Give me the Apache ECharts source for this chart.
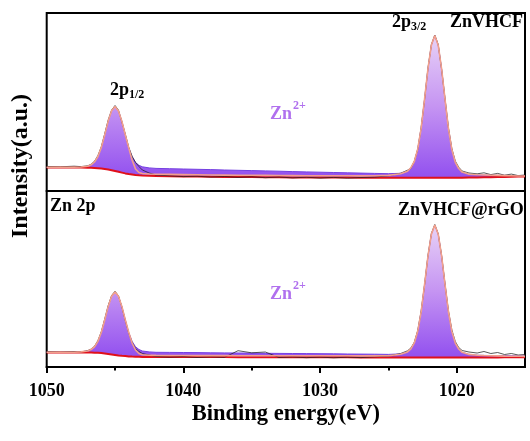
<!DOCTYPE html>
<html><head><meta charset="utf-8">
<script src="https://cdn.jsdelivr.net/npm/echarts@6/dist/echarts.min.js"></script>
<style>html,body{margin:0;padding:0;background:#fff}#c{width:530px;height:441px}</style>
</head><body><div id="c"></div>
<script>
// Binding energy grid (eV)
const energy = [1050,1049,1048,1047.5,1047,1046.75,1046.5,1046.25,1046,1045.75,1045.5,1045.25,1045,1044.75,1044.5,1044.25,1044,1043.75,1043.5,1043.25,1043,1042.5,1042,1041,1040,1039,1038,1037,1036,1035,1034,1033,1032,1031,1030,1029,1028,1027,1026,1025,1024.1,1023.6,1023.35,1023.1,1022.85,1022.6,1022.35,1022.1,1021.85,1021.6,1021.35,1021.1,1020.85,1020.6,1020.35,1020.1,1019.85,1019.6,1019.1,1018.5,1018,1017.5,1017,1016.5,1016,1015.5,1015];

// ZnVHCF (top panel)
const bgTop = [23.5,23.5,23.5,23.5,23.3,23.2,23,22.8,22.5,22,21.5,20.8,20,19.2,18.4,17.6,17,16.5,16,15.7,15.5,15.2,15,14.8,14.6,14.4,14.2,14.1,14,13.9,13.8,13.7,13.6,13.5,13.5,13.4,13.4,13.3,13.3,13.2,13.2,13.2,13.2,13.2,13.2,13.2,13.2,13.2,13.2,13.2,13.2,13.2,13.2,13.2,13.2,13.2,13.3,13.3,13.4,13.5,13.7,13.8,14,14.1,14.3,14.4,14.5];
const compTop = [23.5,23.5,23.5,23.8,24.7,26.2,29,34.5,43.6,56.4,69.9,80.2,84.5,80.1,69.8,56.3,43.4,34.2,28.6,25.7,24.2,23.1,22.6,22.3,22.0,21.7,21.4,21.0,20.7,20.4,20.1,19.8,19.4,19.1,18.8,18.5,18.2,17.9,17.6,17.3,17.7,19.8,23.3,29.5,42,62.7,91.8,122.3,145.9,155.5,145.8,122,91.4,62.2,41.3,28.7,22.5,18.9,16.7,16,15.9,15.8,15.7,15.6,15.5,15.4,15.3];
const envTop = [23.8,23.8,23.8,24,24.7,26.2,29,34.5,43.6,56.4,69.9,80.2,84.5,80.1,69.8,56.3,43.4,31,22,18.5,17.5,17,16.8,16.6,16.4,16.2,16,15.9,15.8,15.7,15.6,15.5,15.4,15.3,15.3,15.2,15.2,15.1,15.2,15.6,17.2,19.8,23.3,29.5,42,62.7,91.8,122.3,145.9,155.5,145.8,122,91.4,62.2,41.3,28.7,22.5,18.9,16.7,16.2,16,15.8,15.6,15.4,15.2,15,15];
const rawTop = [24.5,24.2,24.8,24.4,25.2,26.8,29.8,35.5,44.5,57.5,71,81,85.5,81,69,57,43.8,34.8,28.5,24.5,21,18,16,15.2,14.4,14.8,13.9,14.5,13.6,14.2,13.3,14,13.1,13.8,12.9,13.6,12.8,13.5,13.9,15.2,17.8,20.8,22.5,29.8,41.5,63.5,91.2,123,146.5,156,146.5,121.5,92.2,63,42.2,30,23.8,20,18,17.2,18.2,16.4,17.6,15.8,16.9,15.4,16];

// ZnVHCF@rGO (bottom panel)
const bgBot = [14.5,14.5,14.5,14.5,14.4,14.4,14.3,14.2,14,13.6,13.1,12.6,12.1,11.6,11.2,10.9,10.6,10.4,10.3,10.2,10.1,10,10,10,10,9.9,9.9,9.9,9.8,9.8,9.8,9.8,9.7,9.7,9.7,9.7,9.7,9.6,9.6,9.6,9.6,9.6,9.6,9.6,9.6,9.6,9.6,9.6,9.6,9.6,9.6,9.6,9.6,9.6,9.6,9.6,9.6,9.6,9.6,9.6,9.6,9.6,9.6,9.7,9.7,9.7,9.7];
const compBot = [14.8,14.8,14.8,15.1,16,17.5,20.2,25.6,34.7,47.3,60.6,70.8,75,70.8,60.6,47.3,34.7,25.6,20.2,17.5,16,15.1,14.7,14.6,14.5,14.4,14.2,14.1,14,13.9,13.7,13.6,13.5,13.4,13.3,13.2,13,12.9,12.8,12.6,13.1,15.1,18.2,24.1,35.7,55.1,82.3,110.9,132.9,142,132.8,110.8,82.2,55,35.5,23.9,18,14.7,12.6,11.8,11.6,11.5,11.4,11.3,11.2,11.1,11];
const envBot = [14.8,14.8,14.8,15.1,16,17.5,20.2,25.6,34.7,47.3,60.6,70.8,75,70.8,60.6,47.3,34.7,24,17,13.5,12.2,11.8,11.6,11.5,11.5,11.4,11.4,11.4,11.3,11.3,11.3,11.3,11.2,11.2,11.2,11.2,11.2,11.1,11.1,11.3,12.8,15.1,18.2,24.1,35.7,55.1,82.3,110.9,132.9,142,132.8,110.8,82.2,55,35.5,23.9,18,14.7,12.6,11.8,11.5,11.3,11.1,10.9,10.8,10.7,10.6];
const rawBot = [15.3,14.9,15.4,15.1,16.4,17.9,20.8,26.5,35.5,48.2,61.5,71.5,75.8,71.2,60,46.5,34,24.5,18.5,15.5,13.5,12,10.5,9.8,10.4,9.5,10.2,9.6,16.3,14.2,15,9.5,10.1,9.3,9.9,9.2,9.8,9.4,10.2,11,13.5,16.2,19,24.8,36.5,56,82,111.5,133.5,142.5,133.2,111.5,83,56,37,25.5,19.5,16.5,15,14,15.5,13.5,14.5,12.5,13.5,12,12.5];

const tickLabels = [1050, 1040, 1030, 1020];
const minorTicks = [1045, 1035, 1025];

const FONT = "'Times New Roman','Liberation Serif',serif";
const pairs = (ys) => energy.map((x, i) => [x, ys[i]]);
const fillGrad = {type:'linear', x:0, y:0, x2:0, y2:1, colorStops:[
  {offset:0, color:'#e8d2f7'}, {offset:0.5, color:'#c594f2'}, {offset:1, color:'#9250ef'}]};

function panel(idx, bg, comp, env, raw) {
  const xi = idx === 0 ? 0 : 1;
  return [
    {type:'custom', xAxisIndex:xi, yAxisIndex:idx, data:[[energy[0], comp[0]]], z:2, clip:true,
     renderItem: function (params, api) {
       const pts = [];
       for (let i = 0; i < energy.length; i++) pts.push(api.coord([energy[i], comp[i]]));
       for (let i = energy.length - 1; i >= 0; i--) pts.push(api.coord([energy[i], bg[i]]));
       return {type:'polygon', shape:{points:pts}, style:{fill:fillGrad, stroke:null}};
     }},
    {type:'line', xAxisIndex:xi, yAxisIndex:idx, data:pairs(comp), symbol:'none', z:3,
     lineStyle:{color:'#7440e0', width:1}},
    {type:'line', xAxisIndex:xi, yAxisIndex:idx, data:pairs(bg), symbol:'none', z:4,
     lineStyle:{color:'#e0101a', width:2}},
    {type:'line', xAxisIndex:xi, yAxisIndex:idx, data:pairs(raw), symbol:'none', z:5,
     lineStyle:{color:'#222', width:1, opacity:0.75}},
    {type:'line', xAxisIndex:xi, yAxisIndex:idx, data:pairs(env), symbol:'none', z:6,
     lineStyle:{color:'#f2a08c', width:1.6}}
  ];
}

function txt(x, y, text, size, color, extra) {
  return Object.assign({type:'text', x, y, silent:true, z:100, style:{text, fontSize:size, fontWeight:'bold',
    fontFamily:FONT, fill:color||'#000', align:'left', verticalAlign:'middle'}}, extra||{});
}

const chart = echarts.init(document.getElementById('c'), null, {renderer:'canvas'});
chart.setOption({
  animation:false,
  backgroundColor:'#fff',
  grid:[
    {left:46.7, top:13, width:478.3, height:178, show:true, borderColor:'#000', borderWidth:2, backgroundColor:'transparent'},
    {left:46.7, top:191, width:478.3, height:176, show:true, borderColor:'#000', borderWidth:2, backgroundColor:'transparent'}
  ],
  xAxis:[
    {gridIndex:0, type:'value', min:1015, max:1050, inverse:true, show:false},
    {gridIndex:1, type:'value', min:1015, max:1050, inverse:true, position:'bottom', z:10,
     axisLine:{show:true, lineStyle:{color:'#000', width:2}},
     axisTick:{show:true, customValues:tickLabels, length:6, lineStyle:{color:'#000', width:2}},
     axisLabel:{customValues:tickLabels, formatter:(v) => String(v), fontSize:18, fontWeight:'bold', fontFamily:FONT, color:'#000', margin:15},
     splitLine:{show:false},
     name:'Binding energy(eV)', nameLocation:'middle', nameGap:36,
     nameTextStyle:{fontSize:22.5, fontWeight:'bold', fontFamily:FONT, color:'#000'}},
    {gridIndex:1, type:'value', min:1015, max:1050, inverse:true, position:'bottom', z:10,
     axisLine:{show:true, lineStyle:{color:'#000', width:2}}, axisLabel:{show:false}, splitLine:{show:false},
     axisTick:{show:true, customValues:minorTicks, length:3.5, lineStyle:{color:'#000', width:2}}}
  ],
  yAxis:[
    {gridIndex:0, type:'value', min:0, max:178, show:false},
    {gridIndex:1, type:'value', min:0, max:176, show:false}
  ],
  series:[...panel(0, bgTop, compTop, envTop, rawTop), ...panel(1, bgBot, compBot, envBot, rawBot)],
  graphic:[
    txt(21, 166, 'Intensity(a.u.)', 24, '#000', {rotation:Math.PI/2, style:{text:'Intensity(a.u.)', fontSize:24, fontWeight:'bold', fontFamily:FONT, fill:'#000', align:'center', verticalAlign:'middle'}}),
    txt(110, 90, '2p', 18),
    txt(129, 95, '1/2', 12),
    txt(392, 22, '2p', 18),
    txt(411, 27, '3/2', 12),
    txt(450, 22, 'ZnVHCF', 18),
    txt(270, 114, 'Zn', 18, '#b070ee'),
    txt(293, 106, '2+', 12, '#b070ee'),
    txt(50, 206, 'Zn 2p', 18),
    txt(398, 210, 'ZnVHCF@rGO', 18),
    txt(270, 294, 'Zn', 18, '#b070ee'),
    txt(293, 286, '2+', 12, '#b070ee')
  ]
});
</script></body></html>
